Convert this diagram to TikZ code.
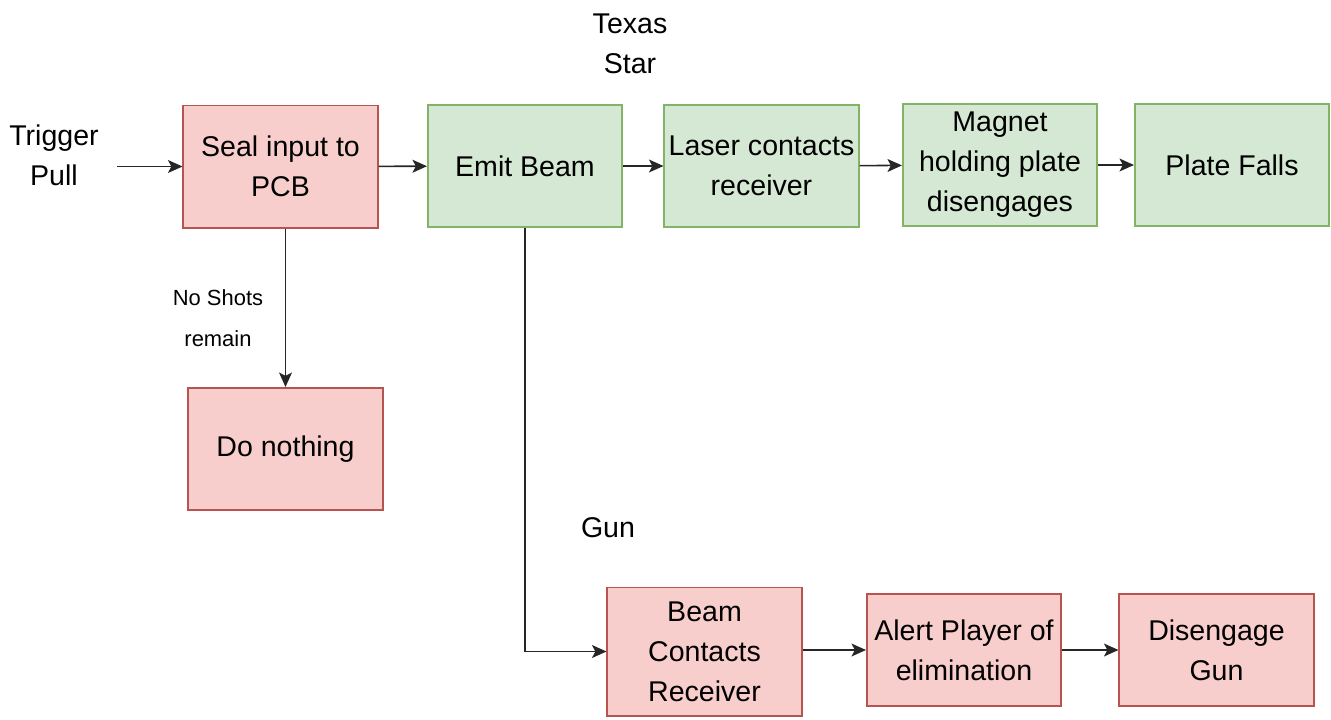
\documentclass[tikz,border=0pt]{standalone}
\usepackage{fontspec}
\setmainfont{Liberation Sans}
\usetikzlibrary{positioning,calc,arrows.meta}

\definecolor{redfill}{HTML}{F8CECC}
\definecolor{redline}{HTML}{B85450}
\definecolor{greenfill}{HTML}{D5E8D4}
\definecolor{greenline}{HTML}{82B366}

\begin{document}
\begin{tikzpicture}[x=0.025cm, y=-0.025cm,
  box/.style={draw, line width=1.4pt, align=center, inner sep=2pt,
    font=\fontsize{20.3}{28.5}\selectfont,
    minimum width=4.85cm, minimum height=3.05cm},
  redbox/.style={box, draw=redline, fill=redfill},
  greenbox/.style={box, draw=greenline, fill=greenfill},
  lbl/.style={align=center, font=\fontsize{20.3}{28.5}\selectfont},
  flow/.style={draw=black!85, line width=1.1pt,
    -{Stealth[length=0.36cm, width=0.32cm, inset=0.08cm]}},
]
\useasboundingbox (0,0) rectangle (1331,719);

% texas star row
\node[lbl, inner xsep=0.45cm] (trig) at (54,155) {Trigger\\Pull};
\node[redbox] (seal) at (280.5,166.5) {Seal input to\\PCB};
\node[greenbox] (emit) at (525,166) {Emit Beam};
\node[greenbox] (laser) at (761.5,166) {Laser contacts\\receiver};
\node[greenbox] (magnet) at (1000,165) {Magnet\\holding plate\\disengages};
\node[greenbox] (plate) at (1232,165) {Plate Falls};
\node[lbl] (star) at (630,44) {Texas\\Star};

% no shots branch
\node[redbox] (nothing) at (285.5,449) {Do nothing};
\node[align=center, font=\fontsize{15.6}{29}\selectfont] (noshots)
  at (218,318) {No Shots\\remain};

% gun row
\node[lbl] (gun) at (608,528) {Gun};
\node[redbox, minimum height=3.2cm] (beam) at (704.5,651.5) {Beam\\Contacts\\Receiver};
\node[redbox, minimum height=2.8cm] (alert) at (964,650) {Alert Player of\\elimination};
\node[redbox, minimum height=2.8cm] (diseng) at (1216.5,650) {Disengage\\Gun};

\draw[flow] (trig.east |- seal.west) -- (seal.west);
\draw[flow] (seal) -- (emit);
\draw[flow] (emit) -- (laser);
\draw[flow] (laser) -- (magnet);
\draw[flow] (magnet) -- (plate);
\draw[flow] (seal.south -| nothing.north) -- (nothing.north);
\draw[flow] (emit.south) |- (beam.west);
\draw[flow] (beam.east |- alert.west) -- (alert.west);
\draw[flow] (alert) -- (diseng);
\end{tikzpicture}
\end{document}
